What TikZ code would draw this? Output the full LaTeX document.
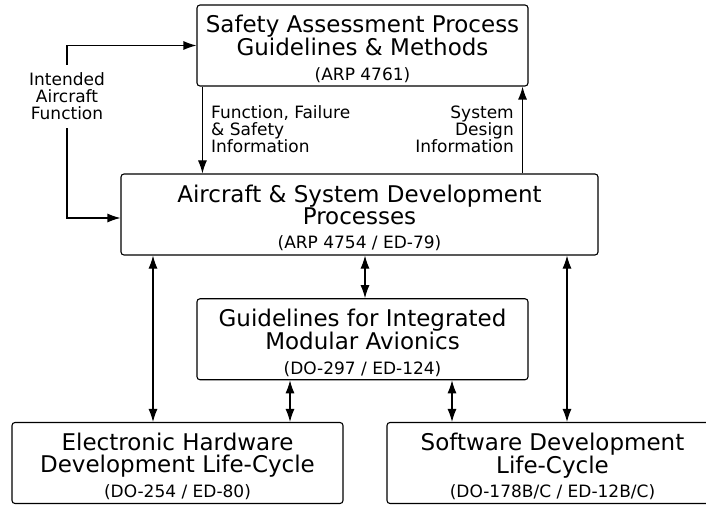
\documentclass[tikz,border=0pt]{standalone}
\usepackage{fontspec}
\setmainfont{DejaVu Sans}
\usetikzlibrary{arrows.meta}
\newcommand\boxtitle{\fontsize{23}{22}\selectfont}
\newcommand\boxref{\fontsize{17}{17}\selectfont}
\newcommand\flowlabel{\fontsize{17}{17}\selectfont}
% raises the first line of a box so its text block sits a little lower
\newcommand\headstrut{\rule{0pt}{24pt}}

\begin{document}
\begin{tikzpicture}[x=1pt,y=-1pt,
  procbox/.style={draw, line width=1.1pt, rounded corners=3pt,
    minimum width=331pt, minimum height=81pt, inner sep=0pt,
    align=center, font=\boxtitle},
  flow/.style={line width=1.1pt, -{Latex[length=13pt,width=9pt]}},
  biflow/.style={line width=1.1pt,
    {Latex[length=13pt,width=9pt]}-{Latex[length=13pt,width=9pt]}},
  note/.style={inner sep=0pt, font=\flowlabel}]
\clip (0,0) rectangle (706,505);

% process boxes
\node[procbox] (safety) at (362.5,45.5)
  {\headstrut Safety Assessment Process\\Guidelines \& Methods\\[2.5pt]{\boxref (ARP 4761)}};
\node[procbox, minimum width=477pt] (system) at (359.5,214.5)
  {\headstrut Aircraft \& System Development\\Processes\\[2.5pt]{\boxref (ARP 4754 / ED-79)}};
\node[procbox] (ima) at (362.5,339.25)
  {\headstrut Guidelines for Integrated\\Modular Avionics\\[2.5pt]{\boxref (DO-297 / ED-124)}};
\node[procbox] (hw) at (177.5,463)
  {\headstrut Electronic Hardware\\Development Life-Cycle\\[2.5pt]{\boxref (DO-254 / ED-80)}};
\node[procbox] (sw) at (552.5,463)
  {\headstrut Software Development\\Life-Cycle\\[2.5pt]{\boxref (DO-178B/C / ED-12B/C)}};

% intended aircraft function feeds both upper boxes
\node[note, inner sep=8pt, align=center] (intent) at (67,96.5)
  {Intended\\Aircraft\\Function};
\draw[flow] (intent.north) |- (safety.west);
\draw[flow] (intent.south) |- ([yshift=-3.5pt]system.west);

% information exchanged between safety assessment and system development
\draw[flow] ([xshift=6pt]safety.south west) -- ([xshift=6pt]safety.south west |- system.north);
\node[note, anchor=north west, align=left] (fail) at (211,105.5)
  {Function, Failure\\\& Safety\\Information};
\draw[flow] ([xshift=-6pt]safety.south east |- system.north) -- ([xshift=-6pt]safety.south east);
\node[note, anchor=north east, align=right] (design) at (514,106)
  {System\\Design\\Information};

% two-way links between the development processes
\draw[biflow] ([xshift=-24.5pt]hw.north |- system.south) -- ([xshift=-24.5pt]hw.north);
\draw[biflow] ([xshift=2.5pt]ima.north |- system.south) -- ([xshift=2.5pt]ima.north);
\draw[biflow] ([xshift=112.5pt]hw.north |- ima.south) -- ([xshift=112.5pt]hw.north);
\draw[biflow] ([xshift=-100.5pt]sw.north |- ima.south) -- ([xshift=-100.5pt]sw.north);
\draw[biflow] ([xshift=14.5pt]sw.north |- system.south) -- ([xshift=14.5pt]sw.north);
\end{tikzpicture}
\end{document}
